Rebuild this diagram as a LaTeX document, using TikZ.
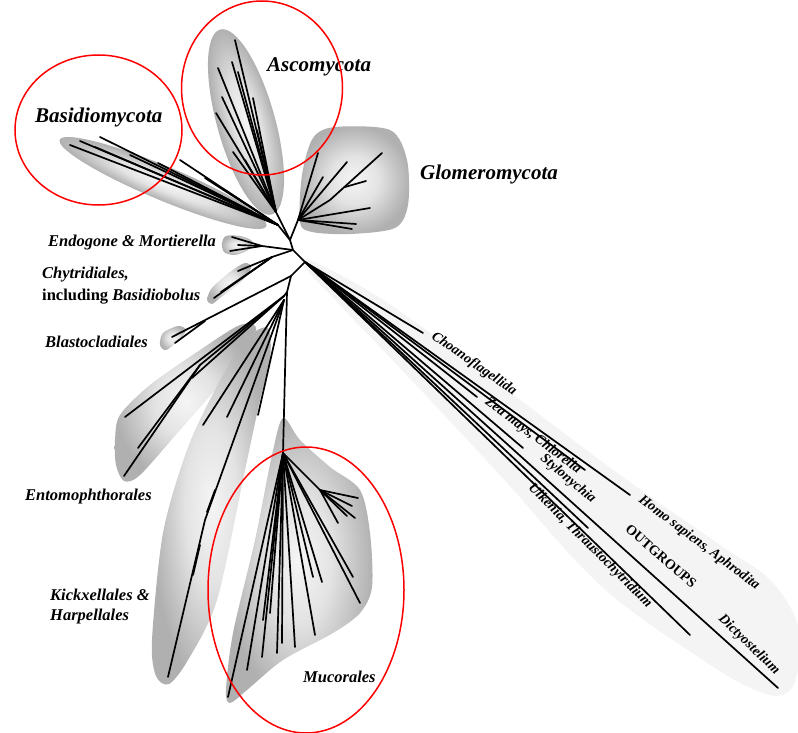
\documentclass[tikz,border=0pt]{standalone}
\usepackage{fontspec}
\setmainfont{Liberation Serif}
\pgfdeclareradialshading{blob}{\pgfpoint{0bp}{0bp}}{color(0bp)=(gray!8); color(11bp)=(gray!22); color(20bp)=(gray!48); color(25bp)=(gray!62); color(50bp)=(gray!62)}
\begin{document}
\begin{tikzpicture}[x=1pt,y=-1pt,
  br/.style={line width=1.7pt, line cap=round, line join=round},
  blob/.style={shading=blob},
  lab/.style={font=\fontsize{16.5}{18}\selectfont\bfseries\itshape, inner sep=0pt, anchor=west},
  biglab/.style={font=\fontsize{21}{24}\selectfont\bfseries\itshape, inner sep=0pt, anchor=west},
  olab/.style={font=\fontsize{14}{16}\selectfont\bfseries\itshape, inner sep=0pt},
  ring/.style={draw=red, line width=1.5pt}]
\useasboundingbox (0,0) rectangle (798,733);
\fill[white] (0,0) rectangle (798,733);

% ---------- shaded groups ----------
\fill[gray!9] plot[smooth cycle, tension=0.6] coordinates {(300,258) (380,298) (500,385) (620,475) (720,545) (770,580) (798,625) (798,670) (785,694) (755,690) (700,658) (600,585) (500,475) (400,368) (340,305)};
\shade[blob, transform canvas={shift={(163,183)}, rotate=-22.7}] (0,0) ellipse [x radius=112, y radius=17];
\shade[blob, transform canvas={shift={(246,122)}, rotate=-74.4}] (0,0) ellipse [x radius=96, y radius=29];
\shade[blob] plot[smooth cycle] coordinates {(313,138) (335,127) (390,130) (407,160) (408,205) (395,228) (350,234) (312,232) (300,222) (302,175)};
\shade[blob] plot[smooth cycle] coordinates {(222,243) (226,236) (240,236) (252,241) (248,250) (235,255) (224,252)};
\shade[blob] plot[smooth cycle] coordinates {(207,300) (212,288) (230,272) (245,263) (251,268) (240,283) (220,298) (212,304)};
\shade[blob] plot[smooth cycle] coordinates {(160,345) (163,333) (178,326) (186,330) (178,341) (166,350)};
\shade[blob] plot[smooth cycle] coordinates {(115,440) (120,415) (150,385) (200,350) (240,325) (256,330) (230,372) (180,430) (140,475) (124,481) (116,465)};
\shade[blob] plot[smooth cycle] coordinates {(152,640) (163,533) (187,450) (215,390) (245,340) (268,328) (270,360) (260,400) (245,470) (217,600) (188,660) (169,684) (156,676)};
\shade[blob] plot[smooth cycle] coordinates {(283,418) (300,440) (330,467) (360,490) (370,533) (372,587) (360,613) (333,633) (283,660) (247,690) (230,703) (226,690) (233,633) (255,540) (272,455)};

% ---------- tree ----------
\coordinate (R0) at (290,240);
\coordinate (R1) at (293,250);
\coordinate (R2) at (305,262);
\coordinate (R3) at (291,276);
\coordinate (R4) at (287,292);
\coordinate (B0) at (278,225);
\coordinate (A0) at (276,212);
\coordinate (G0) at (298,220);
\coordinate (E1) at (262,246);
\coordinate (C0) at (272,257);
\coordinate (M) at (283,453);
\coordinate (EN) at (284,296);
\coordinate (K0) at (284,300);

\draw[br] (B0) -- (R0) -- (R1) -- (R2) -- (R3) -- (R4) -- (M);
\draw[br] (A0) -- (R0) -- (G0);
% Basidiomycota
\foreach \p in {(70,145),(80,141),(100,137),(95,147),(130,155),(158,163),(180,160),(205,178),(225,190)}
  \draw[br] (B0) -- \p;
% Ascomycota
\foreach \p in {(235,40),(232,62),(218,68),(222,97),(216,113),(253,98),(233,152),(257,130),(245,160),(238,72)}
  \draw[br] (A0) -- \p;
% Glomeromycota
\foreach \p in {(318,153),(323,177),(347,162),(370,208),(352,229),(356,224)}
  \draw[br] (G0) -- \p;
\draw[br] (G0) -- (330,200) -- (382,153);
\draw[br] (345,187) -- (366,181);
% Endogone
\draw[br] (R1) -- (E1);
\foreach \p in {(232,237),(230,251),(238,245)} \draw[br] (E1) -- \p;
% Chytridiales
\draw[br] (R1) -- (C0);
\foreach \p in {(214,298),(221,292),(238,271)} \draw[br] (C0) -- \p;
% Blastocladiales
\draw[br] (R3) -- (172,337);
\draw[br] (205,321) -- (175,343);
% Entomophthorales
\draw[br] (R4) -- (EN);
\draw[br] (EN) -- (125,417);
\draw[br] (EN) -- (200,365) -- (138,448);
\draw[br] (200,365) -- (124,476);
\draw[br] (EN) -- (192,378);
% Kickxellales & Harpellales
\draw[br] (K0) -- (248,400) -- (205,520) -- (168,677);
\foreach \p in {(203,425),(227,417),(258,415)} \draw[br] (K0) -- \p;
\draw[br] (215,490) -- (207,512);
\draw[br] (200,545) -- (193,575);
% Mucorales
\foreach \p in {(228,697),(247,670),(262,657),(277,653),(282,643),(295,647),(315,635),(322,582),(313,577),(360,603),(353,577),(263,620),(270,613)}
  \draw[br] (M) -- \p;
\draw[br] (M) -- (320,490);
\foreach \p in {(358,498),(355,518),(347,516),(338,523),(352,506)} \draw[br] (320,490) -- \p;
% Outgroups
\foreach \p in {(423,333),(630,495),(585,470),(477,397),(523,448),(588,528),(690,635),(778,688)}
  \draw[br] (R2) -- \p;

% ---------- labels ----------
\node[biglab] (basl) at (35,117) {Basidiomycota};
\node[biglab] (ascl) at (267,67) {Ascomycota};
\node[biglab] (glol) at (420,174) {Glomeromycota};
\node[lab] (endl) at (48,243) {Endogone \& Mortierella};
\node[lab] (chyl) at (42,275) {Chytridiales,};
\node[lab] (chy2) at (42,297) {\upshape including \itshape Basidiobolus};
\node[lab] (blal) at (45,342) {Blastocladiales};
\node[lab] (entl) at (25,497) {Entomophthorales};
\node[lab] (kicl) at (50,595) {Kickxellales \&};
\node[lab] (harl) at (50,617) {Harpellales};
\node[lab] (mucl) at (303,677) {Mucorales};

\node[olab, rotate=-35] (cho) at (474,364) {Choanoflagellida};
\node[olab, rotate=-37] (zea) at (533,436) {Zea mays, Chlorella};
\node[olab, rotate=-40] (sty) at (568,479) {Stylonychia};
\node[olab, rotate=-37] (hom) at (699,543) {Homo sapiens, Aphrodita};
\node[olab, rotate=-41, font=\fontsize{14}{16}\selectfont\bfseries] (out) at (661,556) {OUTGROUPS};
\node[olab, rotate=-45] (ulk) at (590,546) {Ulkenia, Thraustochytridium};
\node[olab, rotate=-44] (dic) at (749,645) {Dictyostelium};

% ---------- red annotations ----------
\draw[ring] (98.5,130) ellipse [x radius=83.5, y radius=75];
\draw[ring] (262,88) ellipse [x radius=80.5, y radius=87];
\draw[ring] (306,590) ellipse [x radius=98, y radius=143];
\end{tikzpicture}
\end{document}
